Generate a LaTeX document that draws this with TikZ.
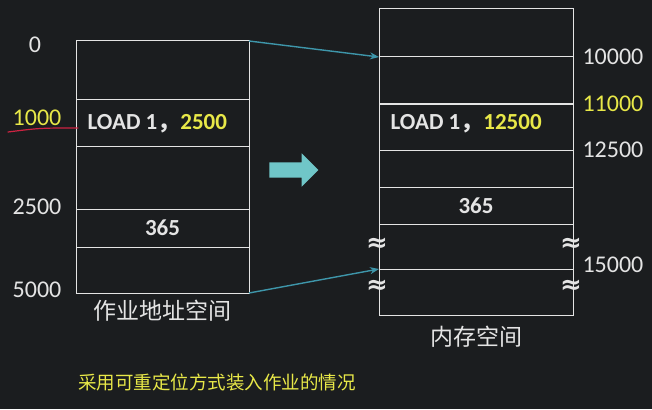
\documentclass[tikz,border=0pt]{standalone}
\usepackage{fontspec}
\setmainfont{Carlito}
\newfontfamily\cjk{Noto Sans CJK SC}
\newfontfamily\symb{DejaVu Sans}
\usetikzlibrary{positioning,arrows.meta,shapes.arrows}
\definecolor{board}{RGB}{27,29,31}
\definecolor{chalk}{RGB}{228,228,228}
\definecolor{hilite}{RGB}{232,232,72}
\definecolor{sea}{RGB}{62,150,170}
\definecolor{seafill}{RGB}{112,198,200}
\definecolor{redpen}{RGB}{205,35,65}
\tikzset{
  cell/.style={draw=chalk,line width=1pt,inner sep=0pt,outer sep=0pt,minimum width=#1},
  addr/.style={text=chalk,font=\fontsize{24}{26}\selectfont},
  instr/.style={text=chalk,font=\bfseries\fontsize{23}{25}\selectfont,anchor=west},
  wave/.style={text=chalk,font=\symb\bfseries\fontsize{26}{26}\selectfont,inner sep=0pt},
  link/.style={draw=sea,line width=1.4pt,-{Stealth[length=9pt,width=7pt]}}
}
\begin{document}
\begin{tikzpicture}[x=1pt,y=-1pt]
\fill[board] (0,0) rectangle (652,409);
\useasboundingbox (0,0) rectangle (652,409);
% job address space
\node[cell=173,minimum height=59,anchor=north west] (j0) at (76,41) {};
\node[cell=173,minimum height=46,below=0pt of j0] (j1) {};
\node[cell=173,minimum height=63,below=0pt of j1] (j2) {};
\node[cell=173,minimum height=38,below=0pt of j2] (j3) {};
\node[cell=173,minimum height=46,below=0pt of j3] (j4) {};
\node[instr] (jl) at ([xshift=8pt,yshift=-1pt]j1.west) {LOAD 1{\cjk ，}\textcolor{hilite}{2500}};
\node[text=chalk,font=\bfseries\fontsize{23}{25}\selectfont] (jn) at (j3) {365};
\node[text=chalk,font=\cjk\fontsize{23}{25}\selectfont,below=4pt of j4] (jname) {作业地址空间};
\node[addr] (a0) at (35,45) {0};
\node[addr,text=hilite] (a1) at (37,118) {1000};
\node[addr] (a2) at (37,207) {2500};
\node[addr] (a3) at (37,290) {5000};
\draw[redpen,line width=1.2pt,line cap=round] (8,132) .. controls (40,128) .. (78,128);
% memory space
\node[cell=194,minimum height=48,anchor=north west] (m0) at (379,9) {};
\node[cell=194,minimum height=47,below=0pt of m0] (m1) {};
\node[cell=194,minimum height=46,below=0pt of m1] (m2) {};
\node[cell=194,minimum height=37,below=0pt of m2] (m3) {};
\node[cell=194,minimum height=37,below=0pt of m3] (m4) {};
\node[cell=194,minimum height=45,below=0pt of m4] (m5) {};
\node[cell=194,minimum height=46,below=0pt of m5] (m6) {};
\node[instr] (ml) at ([xshift=8pt,yshift=3pt]m2.west) {LOAD 1{\cjk ，}\textcolor{hilite}{12500}};
\node[text=chalk,font=\bfseries\fontsize{23}{25}\selectfont] (mn) at (m4) {365};
\node[text=chalk,font=\cjk\fontsize{23}{25}\selectfont,below=8pt of m6] (mname) {内存空间};
\node[addr,right=6pt of m1.north east] (b0) {10000};
\node[addr,text=hilite,right=6pt of m2.north east] (b1) {11000};
\node[addr,right=6pt of m3.north east] (b2) {12500};
\node[addr,right=6pt of m6.north east,yshift=4pt] (b3) {15000};
\node[wave] (w1) at ([xshift=-2pt,yshift=2pt]m5.west) {≈};
\node[wave] (w2) at ([xshift=-2pt,yshift=2pt]m5.east) {≈};
\node[wave] (w3) at ([xshift=-2pt,yshift=5pt]m6.west) {≈};
\node[wave] (w4) at ([xshift=-2pt,yshift=5pt]m6.east) {≈};
% relocation
\draw[link] (j0.north east) -- (m1.north west);
\draw[link] (j4.south east) -- (m6.north west);
\node[single arrow,fill=seafill,inner sep=7.5pt,minimum width=33,minimum height=49,single arrow head extend=9pt] (go) at (290,170) {};
\node[text=hilite,font=\cjk\fontsize{18.5}{20}\selectfont] (cap) at (217,382) {采用可重定位方式装入作业的情况};
\end{tikzpicture}
\end{document}
